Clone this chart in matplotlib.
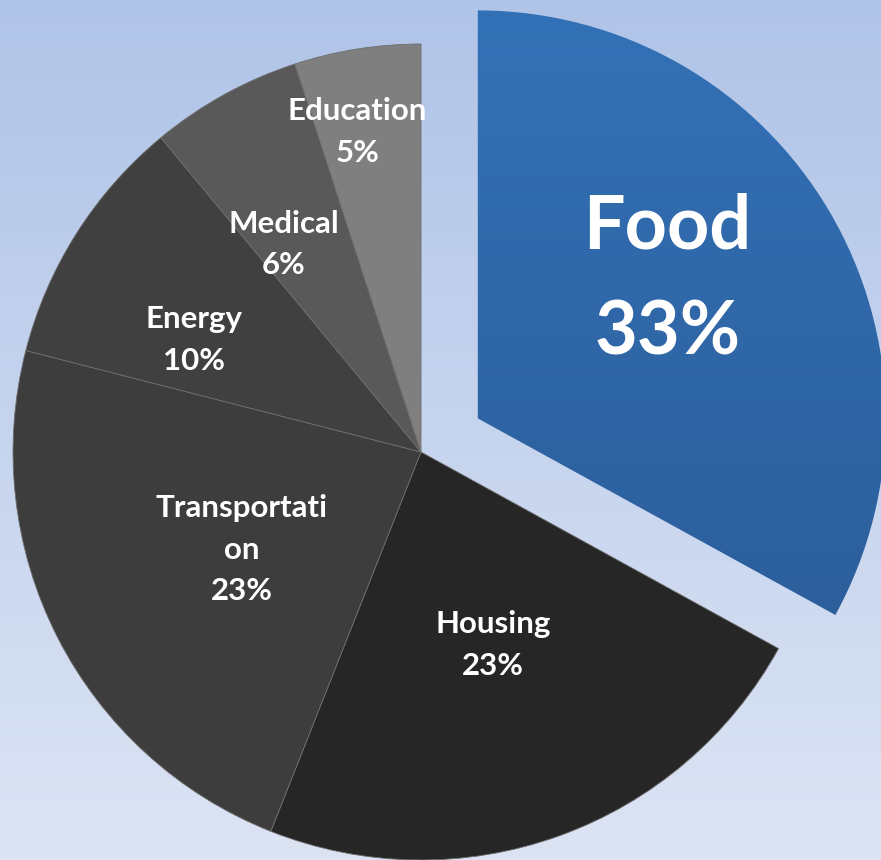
import numpy as np
import matplotlib.pyplot as plt
from matplotlib.colors import LinearSegmentedColormap

# expense shares (percent)
labels = ['Food', 'Housing', 'Transportati\non', 'Energy', 'Medical', 'Education']
values = [33, 23, 23, 10, 6, 5]
colors = ['#3170b4', '#262626', '#3d3d3d', '#404040', '#595959', '#7f7f7f']

W, H = 881, 860
CX, CY, R = 421, 408, 408

explode = [66, 0, 0, 0, 0, 0]
label_dist = [0.575, 0.505, 0.50, 0.62, 0.61, 0.80]
label_nudge = [5.6, 0.7, 1.6, 6.2, 4.7, 2.2]
label_size = [53, 22.5, 22.5, 22.5, 22.5, 22.5]
label_ls = [1.65, 1.6, 1.6, 1.6, 1.6, 1.6]

plt.rcParams['font.family'] = ['Lato', 'DejaVu Sans']

fig = plt.figure(figsize=(W / 100, H / 100), dpi=100)
ax = fig.add_axes([0, 0, 1, 1])

# background gradient
bg = LinearSegmentedColormap.from_list('bg', ['#dce4f4', '#b0c4e8'])
ax.imshow(np.linspace(0, 1, 256).reshape(-1, 1), cmap=bg, origin='lower',
          extent=[0, W, 0, H], aspect='auto', zorder=0)

wedges, _ = ax.pie(values, colors=colors, startangle=90, counterclock=False,
                   explode=explode, radius=R, center=(CX, CY),
                   wedgeprops=dict(linewidth=0.6, edgecolor='#6e6e6e'))

# gradient fill for Food
food = wedges[0]
food.set_facecolor('none')
food.set_edgecolor('none')
fc = LinearSegmentedColormap.from_list('food', ['#2a5892', '#3371b6'])
fx, fy = food.center
im = ax.imshow(np.linspace(0, 1, 256).reshape(-1, 1), cmap=fc, origin='lower',
               extent=[fx - R, fx + R, fy - R, fy + R], aspect='auto', zorder=1)
im.set_clip_path(food)

for w, lab, v, d, nud, fs, ls in zip(wedges, labels, values, label_dist,
                                     label_nudge, label_size, label_ls):
    th = np.deg2rad((w.theta1 + w.theta2) / 2 + nud)
    x0, y0 = w.center
    ax.text(x0 + d * R * np.cos(th), y0 + d * R * np.sin(th), f'{lab}\n{v}%',
            ha='center', va='center', color='white', fontweight='bold',
            fontsize=fs, linespacing=ls, zorder=5)

ax.set_xlim(0, W)
ax.set_ylim(0, H)
ax.set_aspect('auto')
ax.axis('off')

fig.savefig('out.png', dpi=100)
